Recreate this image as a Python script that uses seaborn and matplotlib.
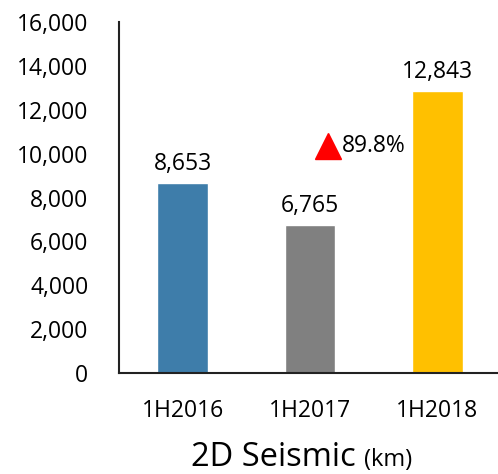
import numpy as np
import pandas as pd
import matplotlib
matplotlib.use('Agg')
import matplotlib.pyplot as plt
import seaborn as sns

# Datos
periods = ['1H2016', '1H2017', '1H2018']
seismic_km = [8653, 6765, 12843]
bar_colors = ['#3E7DAA', '#808080', '#FFC000']
y_ticks = [0, 2000, 4000, 6000, 8000, 10000, 12000, 14000, 16000]

# Crecimiento 1H2017 -> 1H2018 (anotacion con triangulo)
growth = seismic_km[2] / seismic_km[1] - 1
arrow_pos = (1.14, 10350)

sns.set_theme(style='white')
plt.rcParams['font.family'] = ['Open Sans', 'DejaVu Sans']

df = pd.DataFrame({'period': periods, 'km': seismic_km})

fig = plt.figure(figsize=(4.98, 4.74), dpi=100)
ax = fig.add_axes([119 / 498, 101 / 474, 382 / 498, 351 / 474])

sns.barplot(data=df, x='period', y='km', hue='period', palette=bar_colors,
            width=0.4, legend=False, ax=ax, saturation=1)

for cont in ax.containers:
    ax.bar_label(cont, labels=[f'{v:,.0f}' for v in cont.datavalues],
                 padding=5, fontsize=16.5, color='black')

ax.set_xlim(-0.5, 2.5)
ax.set_ylim(0, 16000)
ax.set_yticks(y_ticks)
ax.set_yticklabels([f'{v:,}' for v in y_ticks])
ax.tick_params(axis='y', length=0, pad=22, labelsize=16.5, labelcolor='black')
ax.tick_params(axis='x', length=0, pad=19, labelsize=16.5, labelcolor='black')
ax.set_xlabel('')
ax.set_ylabel('')

for side in ['top', 'right']:
    ax.spines[side].set_visible(False)
for side in ['left', 'bottom']:
    ax.spines[side].set_color('#222222')
    ax.spines[side].set_linewidth(1.5)

# Triangulo rojo + porcentaje
ax.plot(arrow_pos[0], arrow_pos[1], marker='^', color='red', markersize=19,
        linestyle='none', clip_on=False)
ax.annotate(f'{growth * 100:.1f}%', xy=arrow_pos, xytext=(10, 0),
            textcoords='offset points', va='center', ha='left',
            fontsize=16.5, color='black')

# Titulo inferior
fig.text(364 / 498, 8 / 474, '2D Seismic ', ha='right', va='baseline',
         fontsize=23.5, color='black')
fig.text(364 / 498, 8 / 474, '(km)', ha='left', va='baseline',
         fontsize=17, color='black')

fig.savefig('out.png', dpi=100)
